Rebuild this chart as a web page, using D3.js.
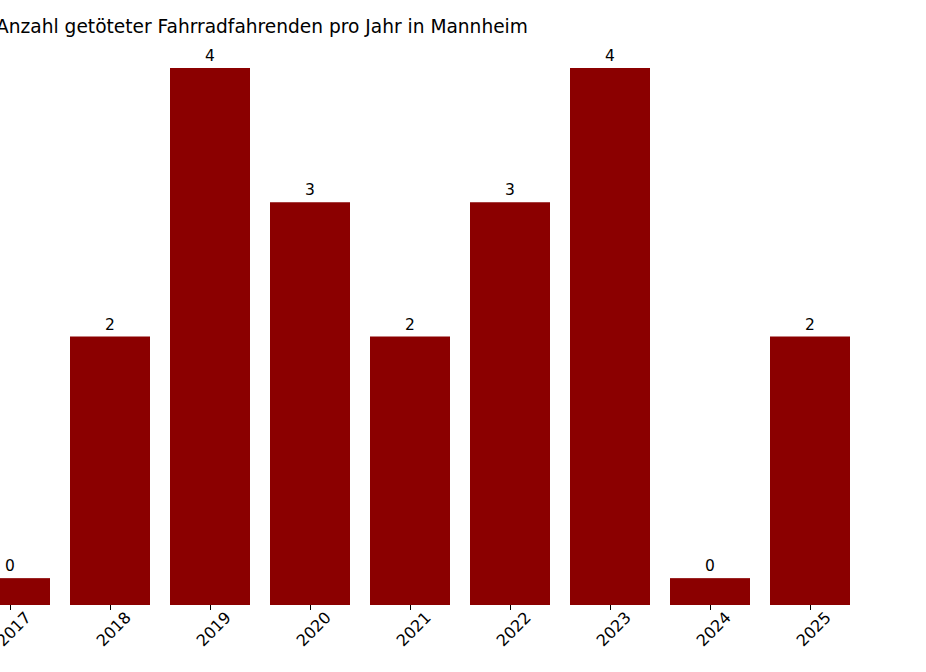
<!DOCTYPE html>
<html><head><meta charset="utf-8">
<script src="https://cdn.jsdelivr.net/npm/d3@7"></script>
<style>body{margin:0;background:#fff}</style>
</head><body>
<svg id="chart" width="926" height="672"></svg>
<script>
var years = [2017, 2018, 2019, 2020, 2021, 2022, 2023, 2024, 2025];
var counts = [0, 2, 4, 3, 2, 3, 4, 0, 2];
var zeroShow = 0.2; // zero years are drawn as a small stub

var svg = d3.select("#chart");
var x = d3.scaleLinear().domain([2017, 2025]).range([10, 810]);
var y = d3.scaleLinear().domain([0, 4]).range([605, 68]);
var barW = 80;

svg.append("text")
    .attr("x", 262).attr("y", 33)
    .attr("text-anchor", "middle")
    .attr("font-family", "DejaVu Sans")
    .attr("font-size", "18.6px")
    .text("Anzahl getöteter Fahrradfahrenden pro Jahr in Mannheim");

var data = years.map(function (d, i) { return {year: d, n: counts[i]}; });

svg.selectAll(".bar").data(data).enter().append("rect")
    .attr("class", "bar")
    .attr("x", function (d) { return x(d.year) - barW / 2; })
    .attr("width", barW)
    .attr("y", function (d) { return y(d.n || zeroShow); })
    .attr("height", function (d) { return y(0) - y(d.n || zeroShow); })
    .attr("fill", "#8b0000");

svg.selectAll(".lbl").data(data).enter().append("text")
    .attr("class", "lbl")
    .attr("x", function (d) { return x(d.year); })
    .attr("y", function (d) { return y(d.n || zeroShow) - 7; })
    .attr("text-anchor", "middle")
    .attr("font-family", "DejaVu Sans")
    .attr("font-size", "15.5px")
    .text(function (d) { return d.n; });

var axis = svg.append("g").attr("transform", "translate(0,605)")
    .call(d3.axisBottom(x).tickValues(years).tickFormat(d3.format("d")).tickSizeOuter(0).tickSize(5));
axis.select(".domain").remove();
axis.selectAll("text")
    .attr("font-family", "DejaVu Sans")
    .attr("font-size", "16px")
    .attr("fill", "#000")
    .attr("text-anchor", "end")
    .attr("dx", "0.35em").attr("dy", "1.05em")
    .attr("transform", "rotate(-45)");
</script>
</body></html>
